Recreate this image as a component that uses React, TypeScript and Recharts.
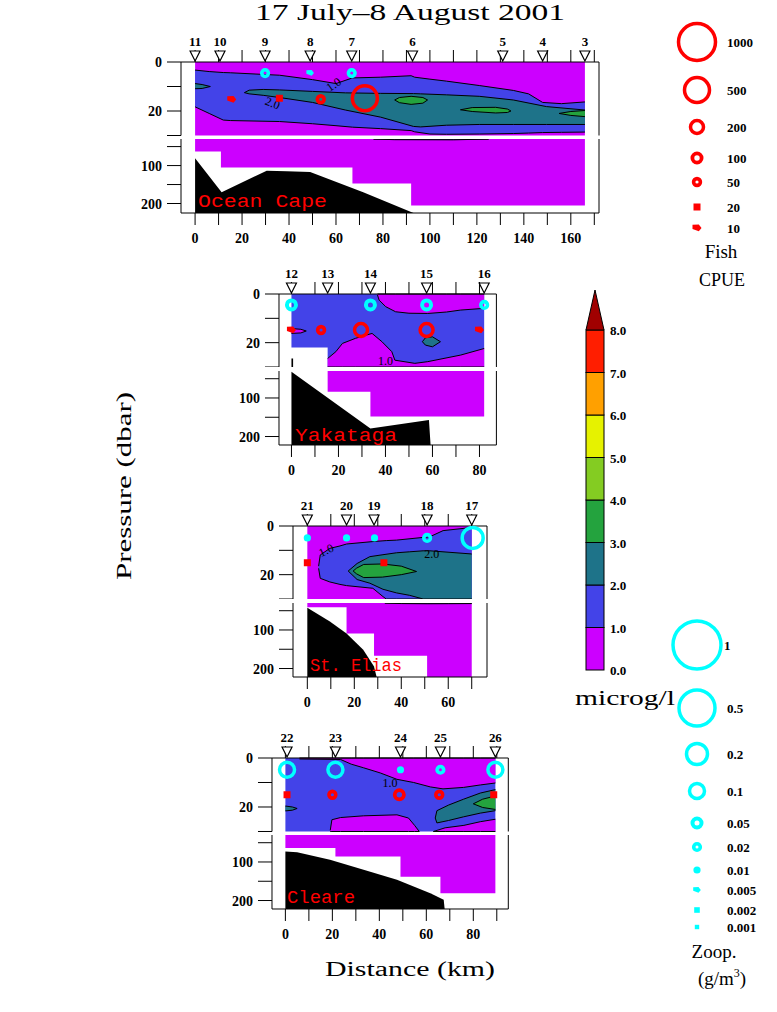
import React from 'react';
import { ComposedChart, Area, Scatter, XAxis, YAxis } from 'recharts';

type Row = [number, number, number];
type Pt = [number, number];
type Note = [number, number, string, number];

const PURPLE = '#cc00ff';
const BLUE = '#4343e8';
const TEAL = '#1e7389';
const GREEN = '#24a33e';
const BLACK = '#000000';
const RED = '#ff0000';
const CYAN = '#00ffff';
const SERIF = '"Liberation Serif", "DejaVu Serif", serif';
const MONO = '"Liberation Mono", "DejaVu Sans Mono", monospace';

// ---------- Ocean Cape (stations 11 - 3) ----------
const ocStations: [string, number][] = [['11', 0], ['10', 10.6], ['9', 29.8], ['8', 49], ['7', 66.7], ['6', 92.6], ['5', 131], ['4', 148], ['3', 166]];
const ocTicks = [0, 10, 20, 30, 40, 50, 60, 70, 80, 90, 100, 110, 120, 130, 140, 150, 160, 170];
const ocBase: Row[] = [[0, 0, 30], [166, 0, 30]];
const ocBlue: Row[] = [[0, 3.3, 18.3], [6, 3.9, 21], [12, 4.3, 23.7], [15, 4.4, 23.9], [36, 5.4, 24.3], [50, 7.2, 25.2], [60, 8.8, 26], [67, 6.5, 26.6], [79, 6.2, 27.2], [92, 5.6, 28], [93.5, 6.2, 28.5], [100, 7, 29.4], [107, 7.8, 29.5], [121, 9.6, 29.4], [135.5, 11.6, 29.2], [142, 13, 29], [148, 16.5, 28.8], [156, 17, 28.7], [166, 16.3, 28.6]];
const ocTealW: Row[] = [[0, 8.8, 10.9], [3, 9.2, 10.8], [6.5, 10, 10]];
const ocTeal: Row[] = [[21, 12.5, 12.5], [23, 11.5, 13], [29, 11.2, 13.6], [36, 11.4, 14.5], [50, 12, 16.5], [64, 12.6, 19.6], [79, 12.8, 22.5], [93, 12.9, 26.3], [96, 13, 26.5], [107, 13.4, 25.8], [121, 14, 25.5], [135.5, 15.5, 25.5], [149.6, 18.2, 25.5], [166, 19.6, 25.5]];
const ocGreen1: Row[] = [[85, 15.5, 15.5], [87, 14.5, 16.6], [92, 14, 17.3], [97, 14.5, 16.8], [99, 15.5, 15.5]];
const ocGreen2: Row[] = [[113, 19.5, 19.5], [118, 18.6, 20.2], [128, 18.5, 20.8], [133, 19.2, 20.6], [134.5, 20, 20]];
const ocGreen3: Row[] = [[155, 21, 21], [160, 20.2, 21.8], [166, 19.8, 22.3]];
const ocLowPurple: Pt[] = [[0, 63], [11, 105], [67, 147], [92, 205], [166, 205]];
const ocLowBlue: Row[] = [[76, 30, 30], [85, 30, 31.8], [110, 30, 32.2], [125, 30, 30]];
const ocBathy: Pt[] = [[0, 81], [11.3, 170], [30.5, 113.5], [39, 115], [49, 117], [71.6, 170], [93, 225]];
const ocFish: Row[] = [[15.6, 15.3, 10], [35.9, 14.8, 20], [53.5, 15.2, 50], [72.3, 14.8, 500]];
const ocZoop: Row[] = [[29.8, 4.5, 0.02], [49, 4.5, 0.005], [66.7, 4.5, 0.02]];
const ocNotes: Note[] = [[59, 9.2, '1.0', -35], [33, 16.8, '2.0', 20]];

// ---------- Yakataga (stations 12 - 16) ----------
const ykStations: [string, number][] = [['12', 0], ['13', 15.4], ['14', 33.6], ['15', 57.5], ['16', 82]];
const ykTicks = [0, 10, 20, 30, 40, 50, 60, 70, 80];
const ykBase: Row[] = [[0, 0, 22], [15.4, 0, 30], [82, 0, 30]];
const ykPurpleTop: Row[] = [[36.6, 0, 0.4], [37.3, 0, 2.5], [40.1, 0, 5.2], [44.3, 0, 7.3], [50, 0, 7.9], [58, 0, 8], [66, 0, 7.4], [72, 0, 6.6], [82, 0, 5.9]];
const ykPurpleBottom: Row[] = [[15.4, 26.5, 30], [18.9, 23.7, 30], [21.7, 20.3, 30], [27.3, 18.2, 30], [34.3, 16.2, 30], [38.5, 19.6, 30], [42.7, 23.7, 30], [44, 27.2, 30], [52.5, 28.5, 30], [58, 27.8, 30], [72, 25.1, 30], [82, 22.4, 30]];
const ykPurpleLeft: Row[] = [[0, 14.2, 16.2], [4, 14.5, 16], [6.3, 15.2, 15.2]];
const ykTeal: Row[] = [[55.7, 19.6, 19.6], [57, 18, 21], [60, 17.6, 21.7], [63.4, 19.6, 19.6]];
const ykBlackUp: Row[] = [[0, 26.5, 30], [0.7, 26.5, 30]];
const ykLowPurple: Pt[] = [[15.4, 84], [33.6, 148], [82, 148]];
const ykBathy: Pt[] = [[0, 32], [33.6, 179], [58.5, 157], [59.2, 222]];
const ykFish: Row[] = [[0, 14.8, 10], [12.6, 14.8, 50], [29.6, 14.8, 200], [57.5, 14.8, 200], [80, 14.8, 10]];
const ykZoop: Row[] = [[0, 4.5, 0.05], [33.6, 4.5, 0.05], [57.5, 4.5, 0.05], [82, 4.5, 0.02]];
const ykNotes: Note[] = [[40, 27.6, '1.0', 0]];

// ---------- St. Elias (stations 21 - 17) ----------
const seStations: [string, number][] = [['21', 0], ['20', 16.7], ['19', 28.4], ['18', 51], ['17', 70]];
const seTicks = [0, 10, 20, 30, 40, 50, 60, 70];
const seBase: Row[] = [[0, 0, 30], [70, 0, 30]];
const seBlue: Row[] = [[4.8, 16.5, 17.4], [5.5, 11.9, 21.5], [9.6, 9.2, 23], [13.9, 8.2, 24], [16.7, 7.4, 24.5], [27.9, 6.4, 25.6], [32.2, 6.1, 29], [33.6, 6, 30], [38, 5.8, 30], [52.2, 4.4, 30], [57.8, 1.9, 30], [66.3, 1, 30], [70, 0.5, 30]];
const seTeal: Row[] = [[17.4, 18.5, 18.5], [21.2, 15.4, 22], [26.6, 12.6, 23.5], [32.2, 11.8, 26], [38, 11, 27.5], [43.6, 10.6, 28.5], [49.3, 10.2, 30], [52.2, 10.2, 30], [70, 11.5, 30]];
const seGreen: Row[] = [[19.5, 18.5, 18.5], [21, 17.3, 19.7], [24, 15.8, 21.2], [32, 15.6, 21], [40, 16.5, 20], [46.5, 18.7, 18.7]];
const seLowPurple: Pt[] = [[0, 41], [16.7, 109], [28.4, 167], [51, 222], [70, 222]];
const seLowBlue: Row[] = [[33, 30, 30], [40, 30, 31.5], [51, 30, 32], [60, 30, 31.8], [70, 30, 31.5]];
const seBathy: Pt[] = [[0, 42], [9.6, 78], [16.7, 109], [23.8, 151], [28.4, 195], [29.5, 222]];
const seFish: Row[] = [[0, 15.1, 20], [32.6, 15.1, 20]];
const seZoop: Row[] = [[0, 4.9, 0.01], [16.7, 4.9, 0.01], [28.6, 4.9, 0.01], [51, 4.9, 0.02], [70.4, 4.9, 0.2]];
const seNotes: Note[] = [[8, 10, '1.0', -25], [53, 11.6, '2.0', 0]];

// ---------- Cleare (stations 22 - 26) ----------
const clStations: [string, number][] = [['22', 0.7], ['23', 21.3], ['24', 49], ['25', 66], ['26', 89.4]];
const clTicks = [0, 10, 20, 30, 40, 50, 60, 70, 80, 90];
const clBase: Row[] = [[0, 0, 30], [89.4, 0, 30]];
const clPurpleTop: Row[] = [[6, 0, 0.4], [23.5, 0, 0.6], [28, 0, 2.5], [33.3, 0, 4], [40.4, 0, 6.1], [47.5, 0, 8.7], [54.6, 0, 10], [61.7, 0, 11.8], [67.1, 0, 12.6], [75.9, 0, 12], [83, 0, 11], [89.4, 0, 10.2]];
const clPurpleBottom: Row[] = [[19.1, 29.5, 30], [19.8, 25.2, 30], [23.5, 24.3, 30], [33.3, 23.6, 30], [47.5, 23.2, 30], [52.4, 24.5, 30], [55, 27.5, 30], [57, 30, 30]];
const clPurpleBottomR: Row[] = [[63, 30, 30], [68, 28.5, 30], [76, 27.5, 30], [83, 26, 30], [89.4, 25, 30]];
const clTeal: Row[] = [[63.8, 24.5, 24.5], [64.5, 21.5, 26.5], [69.5, 19.2, 25.5], [75.9, 16.8, 24], [83, 14.3, 22.5], [89.4, 12.9, 21.5]];
const clGreen: Row[] = [[80, 18.7, 18.7], [84, 16.8, 20.2], [89.4, 15.5, 21]];
const clTealL: Row[] = [[0, 19.6, 21.6], [3, 20, 21.3], [5, 20.6, 20.6]];
const clLowPurple: Pt[] = [[0, 64], [21.3, 86], [49, 138], [66, 181], [89.4, 181]];
const clBathy: Pt[] = [[0, 73], [5, 75], [19, 94], [33.3, 120], [47.5, 146], [61.7, 181], [67.4, 198], [67.8, 222]];
const clFish: Row[] = [[0.7, 15, 20], [20, 15, 50], [48.5, 15, 100], [65.5, 15, 50], [88.7, 15, 20]];
const clZoop: Row[] = [[0.7, 4.8, 0.1], [21.3, 4.8, 0.1], [49, 4.8, 0.01], [66, 4.8, 0.02], [89.4, 4.8, 0.1]];
const clNotes: Note[] = [[44.5, 10.2, '1.0', 0]];

// ---------- legends ----------
const fishLegend = [1000, 500, 200, 100, 50, 20, 10];
const zoopLegend = [1, 0.5, 0.2, 0.1, 0.05, 0.02, 0.01, 0.005, 0.002, 0.001];
const cbLabels = ['0.0', '1.0', '2.0', '3.0', '4.0', '5.0', '6.0', '7.0', '8.0'];
const cbColors = ['#cc00ff', '#4343e8', '#1e7389', '#24a33e', '#84cc22', '#e6f200', '#ffa000', '#ff1e00'];
const cbTop = '#a00000';

type Mark = { kind: 'ring' | 'disk' | 'square' | 'wedge'; r: number; w?: number };
const fishMarks: Record<string, Mark> = {
  '1000': { kind: 'ring', r: 18.5, w: 3.5 },
  '500': { kind: 'ring', r: 12.5, w: 3.5 },
  '200': { kind: 'ring', r: 6.5, w: 3.5 },
  '100': { kind: 'ring', r: 4.6, w: 3.8 },
  '50': { kind: 'ring', r: 3.4, w: 3.6 },
  '20': { kind: 'square', r: 3.5 },
  '10': { kind: 'wedge', r: 4.5 },
};
const zoopMarks: Record<string, Mark> = {
  '1': { kind: 'ring', r: 24, w: 3.5 },
  '0.5': { kind: 'ring', r: 18, w: 3.5 },
  '0.2': { kind: 'ring', r: 10.5, w: 3.5 },
  '0.1': { kind: 'ring', r: 7.5, w: 3.5 },
  '0.05': { kind: 'ring', r: 4.5, w: 4 },
  '0.02': { kind: 'ring', r: 3.3, w: 3.6 },
  '0.01': { kind: 'disk', r: 3.6 },
  '0.005': { kind: 'wedge', r: 3.8 },
  '0.002': { kind: 'square', r: 2.8 },
  '0.001': { kind: 'square', r: 2.2 },
};

const drawMark = (m: Mark | undefined, cx: number, cy: number, color: string) => {
  if (!m) return <g />;
  if (m.kind === 'ring') return <circle cx={cx} cy={cy} r={m.r} fill="none" stroke={color} strokeWidth={m.w} />;
  if (m.kind === 'disk') return <circle cx={cx} cy={cy} r={m.r} fill={color} />;
  if (m.kind === 'square') return <rect x={cx - m.r} y={cy - m.r} width={2 * m.r} height={2 * m.r} fill={color} />;
  const r = m.r;
  return (
    <polygon
      points={`${cx - r},${cy - r * 0.7} ${cx + r * 0.4},${cy - r * 0.8} ${cx + r},${cy} ${cx + r * 0.4},${cy + r * 0.7} ${cx - r},${cy + r * 0.2}`}
      fill={color}
    />
  );
};

const rng = (rows: Row[]) => rows.map(([x, lo, hi]) => ({ x, v: [lo, hi] }));
const fromTop = (rows: Pt[]) => rows.map(([x, d]) => ({ x, v: [30, d] }));
const toBottom = (rows: Pt[], max: number) => rows.map(([x, d]) => ({ x, v: [d, max] }));

type Layer = { rows: { x: number; v: number[] }[]; fill: string; line?: boolean; step?: boolean };
type Panel = {
  name: string;
  frameL: number; frameR: number; xDomain: [number, number]; xTicks: number[];
  upTop: number; upBot: number; loTop: number; loBot: number; loMax: number;
  stations: [string, number][]; fish: Row[]; zoop: Row[]; notes: Note[];
  upper: Layer[]; lower: Layer[];
};

const panels: Panel[] = [
  {
    name: 'Ocean Cape', frameL: 181, frameR: 599, xDomain: [-6, 172], xTicks: ocTicks,
    upTop: 62, upBot: 135.5, loTop: 139, loBot: 213, loMax: 225,
    stations: ocStations, fish: ocFish, zoop: ocZoop, notes: ocNotes,
    upper: [
      { rows: rng(ocBase), fill: PURPLE },
      { rows: rng(ocBlue), fill: BLUE, line: true },
      { rows: rng(ocTealW), fill: TEAL, line: true },
      { rows: rng(ocTeal), fill: TEAL, line: true },
      { rows: rng(ocGreen1), fill: GREEN, line: true },
      { rows: rng(ocGreen2), fill: GREEN, line: true },
      { rows: rng(ocGreen3), fill: GREEN, line: true },
    ],
    lower: [
      { rows: fromTop(ocLowPurple), fill: PURPLE, step: true },
      { rows: rng(ocLowBlue), fill: BLUE, line: true },
      { rows: toBottom(ocBathy, 225), fill: BLACK },
    ],
  },
  {
    name: 'Yakataga', frameL: 279.3, frameR: 496.7, xDomain: [-5.3, 87.2], xTicks: ykTicks,
    upTop: 294, upBot: 367, loTop: 371, loBot: 445, loMax: 222,
    stations: ykStations, fish: ykFish, zoop: ykZoop, notes: ykNotes,
    upper: [
      { rows: rng(ykBase), fill: BLUE, step: true },
      { rows: rng(ykPurpleTop), fill: PURPLE, line: true },
      { rows: rng(ykPurpleBottom), fill: PURPLE, line: true },
      { rows: rng(ykPurpleLeft), fill: PURPLE, line: true },
      { rows: rng(ykTeal), fill: TEAL, line: true },
      { rows: rng(ykBlackUp), fill: BLACK },
    ],
    lower: [
      { rows: fromTop(ykLowPurple), fill: PURPLE, step: true },
      { rows: toBottom(ykBathy, 222), fill: BLACK },
    ],
  },
  {
    name: 'St. Elias', frameL: 293, frameR: 487, xDomain: [-6.1, 76.5], xTicks: seTicks,
    upTop: 526, upBot: 599, loTop: 603, loBot: 677, loMax: 222,
    stations: seStations, fish: seFish, zoop: seZoop, notes: seNotes,
    upper: [
      { rows: rng(seBase), fill: PURPLE },
      { rows: rng(seBlue), fill: BLUE, line: true },
      { rows: rng(seTeal), fill: TEAL, line: true },
      { rows: rng(seGreen), fill: GREEN, line: true },
    ],
    lower: [
      { rows: fromTop(seLowPurple), fill: PURPLE, step: true },
      { rows: rng(seLowBlue), fill: BLUE, line: true },
      { rows: toBottom(seBathy, 222), fill: BLACK },
    ],
  },
  {
    name: 'Cleare', frameL: 271.7, frameR: 508, xDomain: [-5.7, 94.9], xTicks: clTicks,
    upTop: 758.3, upBot: 831.8, loTop: 835, loBot: 909, loMax: 222,
    stations: clStations, fish: clFish, zoop: clZoop, notes: clNotes,
    upper: [
      { rows: rng(clBase), fill: BLUE },
      { rows: rng(clPurpleTop), fill: PURPLE, line: true },
      { rows: rng(clPurpleBottom), fill: PURPLE, line: true },
      { rows: rng(clPurpleBottomR), fill: PURPLE, line: true },
      { rows: rng(clTealL), fill: TEAL, line: true },
      { rows: rng(clTeal), fill: TEAL, line: true },
      { rows: rng(clGreen), fill: GREEN, line: true },
    ],
    lower: [
      { rows: fromTop(clLowPurple), fill: PURPLE, step: true },
      { rows: toBottom(clBathy, 222), fill: BLACK },
    ],
  },
];

const LEFT_W = 60;
const RIGHT_W = 30;
const TOP_H = 50;
const BOTTOM_H = 40;

const yTick = (labels: number[]) => (props: any) => {
  const { x, y, payload } = props;
  if (!labels.includes(payload.value)) return <g />;
  return (
    <text x={x} y={y} dy={5} textAnchor="end" fontFamily={SERIF} fontSize={14} fontWeight="bold" fill="#000">
      {payload.value}
    </text>
  );
};

const xTick = (props: any) => {
  const { x, y, payload } = props;
  if (payload.value % 20 !== 0) return <g />;
  return (
    <text x={x} y={y} dy={12} textAnchor="middle" fontFamily={SERIF} fontSize={14} fontWeight="bold" fill="#000">
      {payload.value}
    </text>
  );
};

const noTick = () => <g />;

const StationMark = (props: any) => {
  const { cx, cy, payload } = props;
  return (
    <g>
      <polygon points={`${cx - 5},${cy - 11} ${cx + 5},${cy - 11} ${cx},${cy - 1}`} fill="#fff" stroke="#000" strokeWidth={1.2} />
      <text x={cx} y={cy - 16} textAnchor="middle" fontFamily={SERIF} fontSize={13} fontWeight="bold" fill="#000">
        {payload.label}
      </text>
    </g>
  );
};

const NoteMark = (props: any) => {
  const { cx, cy, payload } = props;
  return (
    <text
      x={cx}
      y={cy}
      dy={4}
      textAnchor="middle"
      fontFamily={SERIF}
      fontSize={12}
      fill="#000"
      transform={`rotate(${payload.angle} ${cx} ${cy})`}
    >
      {payload.text}
    </text>
  );
};

const renderLayers = (layers: Layer[], key: string) =>
  layers.map((l, i) => (
    <Area
      key={`${key}${i}`}
      yAxisId="l"
      data={l.rows}
      dataKey="v"
      type={l.step ? 'stepAfter' : 'linear'}
      fill={l.fill}
      fillOpacity={1}
      stroke={l.line ? '#000' : 'none'}
      strokeWidth={1}
      dot={false}
      activeDot={false}
      isAnimationActive={false}
    />
  ));

const UpperSection = ({ p }: { p: Panel }) => {
  const w = p.frameR - p.frameL;
  const h = p.upBot - p.upTop;
  const stations = p.stations.map(([label, x]) => ({ x, y: 0, label }));
  const fish = p.fish.map(([x, y, val]) => ({ x, y, val }));
  const zoop = p.zoop.map(([x, y, val]) => ({ x, y, val }));
  const notes = p.notes.map(([x, y, text, angle]) => ({ x, y, text, angle }));
  return (
    <div style={{ position: 'absolute', left: p.frameL - LEFT_W, top: p.upTop - TOP_H }}>
      <ComposedChart width={LEFT_W + w + RIGHT_W} height={TOP_H + h} margin={{ top: TOP_H - 30, right: 0, bottom: 0, left: 0 }}>
        <XAxis dataKey="x" type="number" orientation="top" domain={p.xDomain} ticks={p.xTicks} interval={0} tick={noTick} tickSize={12} height={30} stroke="#000" />
        <YAxis yAxisId="l" dataKey="y" type="number" domain={[0, 30]} reversed ticks={[0, 10, 20, 30]} interval={0} width={LEFT_W} tickSize={14} tickMargin={5} tick={yTick([0, 20])} stroke="#000" />
        <YAxis yAxisId="r" dataKey="y" orientation="right" type="number" domain={[0, 30]} reversed ticks={[0, 10, 20, 30]} interval={0} width={RIGHT_W} tickSize={11} tick={noTick} stroke="#000" />
        {renderLayers(p.upper, 'u')}
        <Scatter yAxisId="l" data={notes} shape={NoteMark} isAnimationActive={false} />
        <Scatter yAxisId="l" data={zoop} shape={(s: any) => drawMark(zoopMarks[String(s.payload.val)], s.cx, s.cy, CYAN)} isAnimationActive={false} />
        <Scatter yAxisId="l" data={fish} shape={(s: any) => drawMark(fishMarks[String(s.payload.val)], s.cx, s.cy, RED)} isAnimationActive={false} />
        <Scatter yAxisId="l" data={stations} shape={StationMark} isAnimationActive={false} />
      </ComposedChart>
    </div>
  );
};

const LowerSection = ({ p }: { p: Panel }) => {
  const w = p.frameR - p.frameL;
  const h = p.loBot - p.loTop;
  return (
    <div style={{ position: 'absolute', left: p.frameL - LEFT_W, top: p.loTop }}>
      <ComposedChart width={LEFT_W + w + RIGHT_W} height={h + BOTTOM_H} margin={{ top: 0, right: 0, bottom: 0, left: 0 }}>
        <XAxis dataKey="x" type="number" orientation="bottom" domain={p.xDomain} ticks={p.xTicks} interval={0} tick={xTick} tickSize={12} tickMargin={6} height={BOTTOM_H} stroke="#000" />
        <YAxis yAxisId="l" type="number" domain={[30, p.loMax]} reversed ticks={[50, 100, 150, 200]} interval={0} width={LEFT_W} tickSize={14} tickMargin={5} tick={yTick([100, 200])} stroke="#000" />
        <YAxis yAxisId="r" orientation="right" type="number" domain={[30, p.loMax]} reversed ticks={[50, 100, 150, 200]} interval={0} width={RIGHT_W} tickSize={11} tick={noTick} stroke="#000" />
        {renderLayers(p.lower, 'd')}
      </ComposedChart>
    </div>
  );
};

const sectionNames: [string, number, number, number][] = [
  ['Ocean Cape', 198, 207, 129],
  ['Yakataga', 295, 441, 102],
  ['St. Elias', 310, 671, 92],
  ['Cleare', 287, 903, 68],
];

const Overlay = () => {
  const fishY = [42, 90, 127, 158, 182, 207, 228];
  const zoopY = [645, 708, 754, 791, 823, 847, 870, 890, 910, 927];
  const cbBottom = 670;
  const cbStep = 42.5;
  const cbX = 586;
  const cbW = 18;
  return (
    <svg width={777} height={1012} style={{ position: 'absolute', left: 0, top: 0, pointerEvents: 'none' }}>
      <text x={410} y={20} textAnchor="middle" fontFamily={SERIF} fontSize={24} textLength={310} lengthAdjust="spacingAndGlyphs" fill="#000">
        17 July–8 August 2001
      </text>
      <text x={0} y={0} transform="translate(131 486) rotate(-90)" textAnchor="middle" fontFamily={SERIF} fontSize={20} textLength={188} lengthAdjust="spacingAndGlyphs" fill="#000">
        Pressure (dbar)
      </text>
      <text x={410} y={976} textAnchor="middle" fontFamily={SERIF} fontSize={20} textLength={170} lengthAdjust="spacingAndGlyphs" fill="#000">
        Distance (km)
      </text>
      {sectionNames.map(([name, x, y, len]) => (
        <text key={name} x={x} y={y} fontFamily={MONO} fontSize={19} fill={RED} textLength={len} lengthAdjust="spacingAndGlyphs">
          {name}
        </text>
      ))}

      {fishLegend.map((v, i) => (
        <g key={`f${v}`}>
          {drawMark(fishMarks[String(v)], 697, fishY[i], RED)}
          <text x={727} y={fishY[i]} dy={5} fontFamily={SERIF} fontSize={13} fontWeight="bold" fill="#000">{v}</text>
        </g>
      ))}
      <text x={721} y={258} textAnchor="middle" fontFamily={SERIF} fontSize={19} fill="#000">Fish</text>
      <text x={722} y={286} textAnchor="middle" fontFamily={SERIF} fontSize={18} fill="#000">CPUE</text>

      {cbColors.map((c, i) => (
        <rect key={c} x={cbX} y={cbBottom - (i + 1) * cbStep} width={cbW} height={cbStep} fill={c} stroke="#000" strokeWidth={1} />
      ))}
      <polygon points={`${cbX},${cbBottom - 8 * cbStep} ${cbX + cbW},${cbBottom - 8 * cbStep} ${cbX + cbW / 2},290`} fill={cbTop} stroke="#000" strokeWidth={1} />
      {cbLabels.map((t, i) => (
        <text key={t} x={cbX + cbW + 6} y={cbBottom - i * cbStep} dy={5} fontFamily={SERIF} fontSize={13} fontWeight="bold" fill="#000">{t}</text>
      ))}
      <text x={575} y={705} fontFamily={SERIF} fontSize={20} textLength={100} lengthAdjust="spacingAndGlyphs" fill="#000">microg/l</text>

      {zoopLegend.map((v, i) => (
        <g key={`z${v}`}>
          {drawMark(zoopMarks[String(v)], 697, zoopY[i], CYAN)}
          <text x={i === 0 ? 724 : 727} y={zoopY[i]} dy={5} fontFamily={SERIF} fontSize={13} fontWeight="bold" fill="#000">{v}</text>
        </g>
      ))}
      <text x={714} y={958} textAnchor="middle" fontFamily={SERIF} fontSize={19} fill="#000">Zoop.</text>
      <text x={722} y={985} textAnchor="middle" fontFamily={SERIF} fontSize={19} fill="#000">
        (g/m<tspan dy={-8} fontSize={12}>3</tspan><tspan dy={8}>)</tspan>
      </text>
    </svg>
  );
};

export default function App() {
  return (
    <div style={{ position: 'absolute', left: 0, top: 0, width: 777, height: 1012, background: '#fff', overflow: 'hidden' }}>
      {panels.map((p) => (
        <React.Fragment key={p.name}>
          <UpperSection p={p} />
          <LowerSection p={p} />
        </React.Fragment>
      ))}
      <Overlay />
    </div>
  );
}
